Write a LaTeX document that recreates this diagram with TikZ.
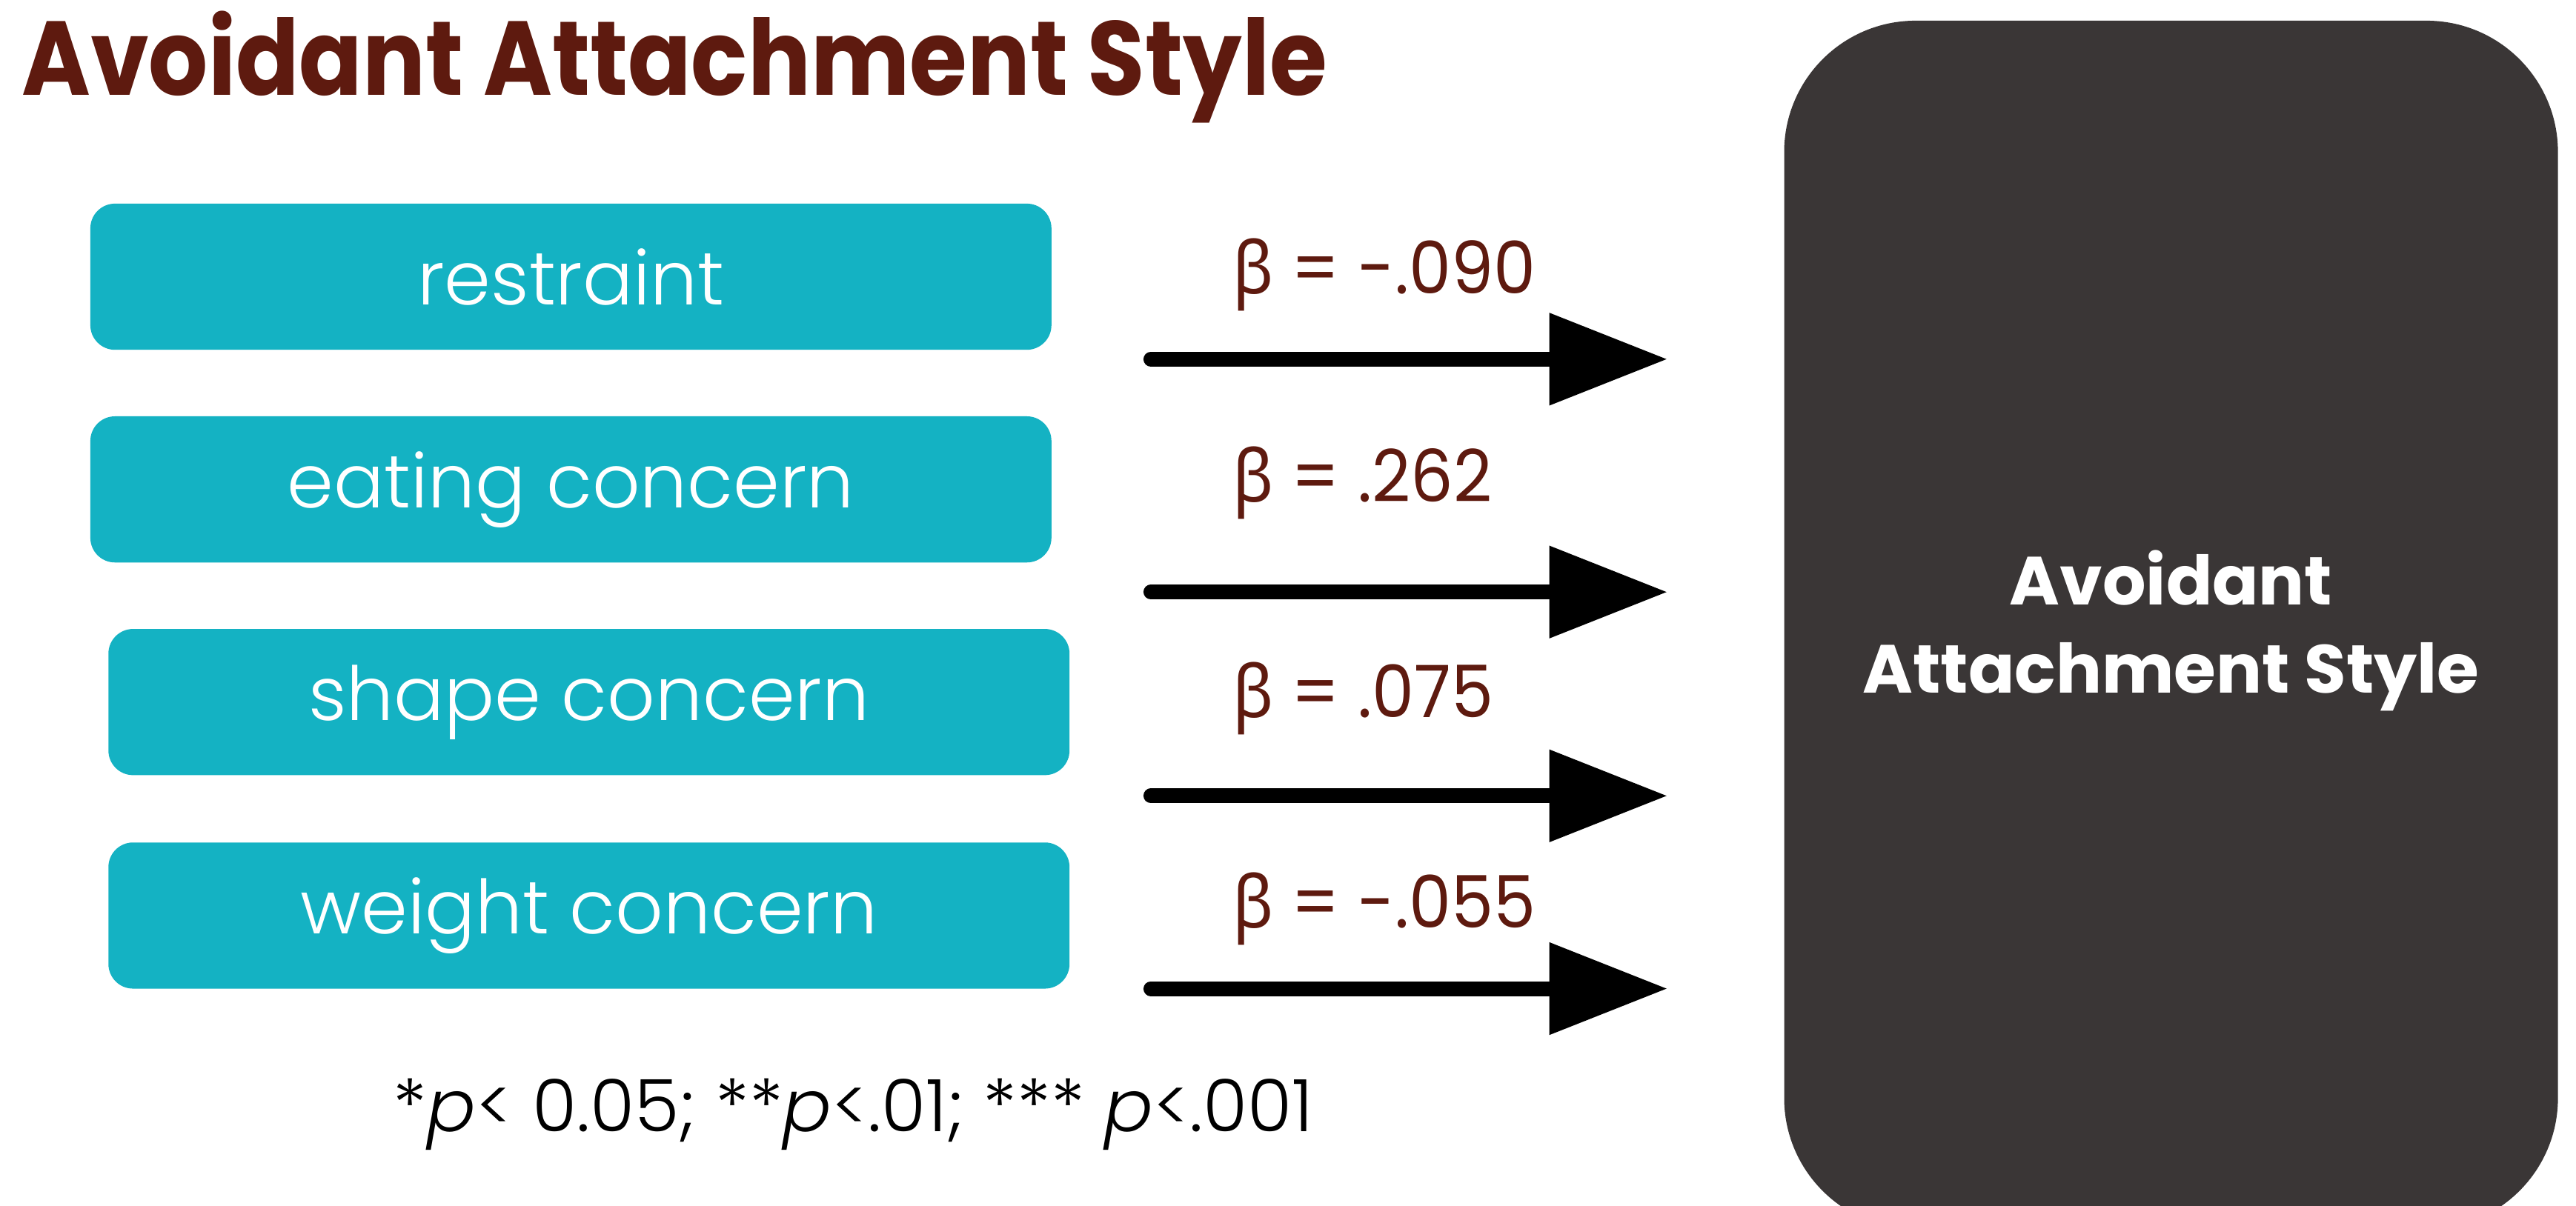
\documentclass[tikz,border=0pt]{standalone}
\usepackage{fontspec}
\setmainfont{Poppins}
\newfontfamily\poplight{Poppins Light}
\newfontfamily\grk{Noto Sans}
\usetikzlibrary{arrows.meta}
\definecolor{titlered}{HTML}{5E1A0F}
\definecolor{teal}{HTML}{14B2C3}
\definecolor{charcoal}{HTML}{3A3636}
\tikzset{
  predbox/.style={fill=teal, rounded corners=15pt, minimum width=585pt,
    minimum height=89pt, inner sep=0pt, text=white,
    font=\poplight\fontsize{45.5}{50}\selectfont},
  outcome/.style={fill=charcoal, rounded corners=80pt, minimum width=471pt,
    minimum height=736pt, inner sep=0pt},
  outcome text/.style={inner sep=0pt, text=white, align=center,
    font=\bfseries\fontsize{41.5}{54}\selectfont},
  beta/.style={anchor=base west, inner sep=0pt, text=titlered,
    font=\fontsize{44}{50}\selectfont},
  path arrow/.style={line width=9pt, line cap=round,
    -{Triangle[length=72pt, width=54pt]}}
}
\begin{document}
\begin{tikzpicture}[x=1pt, y=-1pt]
  \clip (0,0) rectangle (1568,734);
  \fill[white] (0,0) rectangle (1568,734);

  % heading
  \node[anchor=base west, inner sep=0pt, text=titlered,
        font=\bfseries\fontsize{64}{70}\selectfont] (title) at (13,58)
        {\scalebox{0.888}[1]{Avoidant Attachment Style}};

  % predictors
  \node[predbox] (restraint) at (347.5,168.5) {restraint};
  \node[predbox] (eating)    at (347.5,298)   {eating concern};
  \node[predbox] (shape)     at (358.5,427.5) {shape concern};
  \node[predbox] (weight)    at (358.5,557.5) {weight concern};

  % outcome
  \node[outcome] (avoid) at (1321.5,380.6) {};
  \node[outcome text] (avoidlabel) at (1321.5,384) {Avoidant\\Attachment Style};

  % paths
  \coordinate (s1) at (700.5,218.7); \coordinate (e1) at (1015,218.7);
  \coordinate (s2) at (700.5,360.5); \coordinate (e2) at (1015,360.5);
  \coordinate (s3) at (700.5,484.6); \coordinate (e3) at (1015,484.6);
  \coordinate (s4) at (700.5,602);   \coordinate (e4) at (1015,602);
  \draw[path arrow] (s1) -- (e1);
  \draw[path arrow] (s2) -- (e2);
  \draw[path arrow] (s3) -- (e3);
  \draw[path arrow] (s4) -- (e4);

  % coefficients
  \node[beta] (b1) at (750,179)   {\scalebox{0.93}[1]{{\grk β} = -.090}};
  \node[beta] (b2) at (750,305.7) {\scalebox{0.93}[1]{{\grk β} = .262}};
  \node[beta] (b3) at (750,437)   {\scalebox{0.93}[1]{{\grk β} = .075}};
  \node[beta] (b4) at (750,565)   {\scalebox{0.93}[1]{{\grk β} = -.055}};

  % significance note
  \node[anchor=base, inner sep=0pt, font=\poplight\fontsize{44}{50}\selectfont]
    (note) at (519.5,689) {*\textit{p}< 0.05; **\textit{p}<.01; *** \textit{p}<.001};
\end{tikzpicture}
\end{document}
